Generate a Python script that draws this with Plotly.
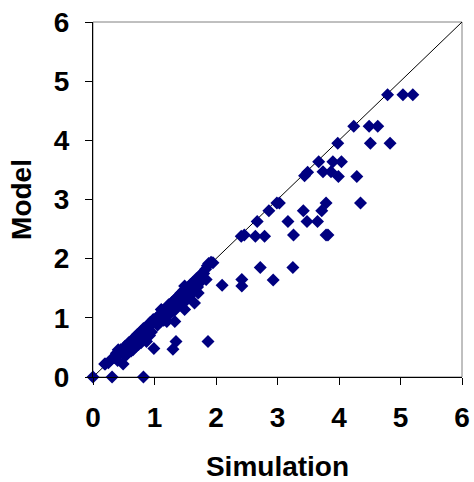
import plotly.graph_objects as go

# Simulation (x) and Model (y) values
simulation = [
    0.00, 0.31, 0.82,
    0.19, 0.49, 0.41, 0.99, 1.30, 1.35, 1.87, 0.87,
    0.20, 0.25, 0.30, 0.35, 0.38, 0.42, 0.45, 0.48, 0.52, 0.55, 0.58, 0.60,
    0.63, 0.66, 0.68, 0.70, 0.72, 0.75, 0.78, 0.80, 0.82, 0.85, 0.88, 0.90,
    0.93, 0.95, 0.98, 1.00, 1.03, 1.05, 1.08, 1.10, 1.13, 1.15, 1.18, 1.20,
    1.23, 1.25, 1.28, 1.30, 1.33, 1.35, 1.38, 1.40, 1.43, 1.45, 1.48, 1.50,
    1.53, 1.55, 1.58, 1.60, 1.63, 1.65, 1.68, 1.70, 1.73, 1.75, 1.78, 1.80,
    1.83, 1.86, 1.88, 1.92, 1.95,
    0.40, 0.52, 0.62, 0.70, 0.78, 0.86, 0.95, 1.05, 1.15, 1.25, 1.35, 1.45,
    1.55, 1.62, 1.70,
    0.55, 0.65, 0.74, 0.92, 1.10, 1.22, 1.32, 1.42, 1.52, 1.60, 1.76,
    1.20, 1.33, 1.11, 1.49, 1.65, 1.71, 1.84, 1.49,
    2.10, 2.42, 2.42, 2.93, 2.72, 3.25,
    2.41, 2.46, 2.64, 2.79, 3.26, 3.79, 3.82,
    2.67, 3.17, 3.48, 3.65,
    2.86, 3.42, 3.72,
    2.99, 3.03, 3.79, 4.35,
    3.44, 3.49, 3.74, 3.87, 3.99, 4.29,
    3.67, 3.90, 4.04,
    3.98, 4.51, 4.83,
    4.24, 4.49, 4.63,
    4.79, 5.04, 5.20,
]
model = [
    0.00, 0.00, 0.00,
    0.22, 0.22, 0.46, 0.48, 0.47, 0.60, 0.60, 0.60,
    0.22, 0.24, 0.30, 0.33, 0.40, 0.40, 0.46, 0.45, 0.52, 0.50, 0.58, 0.55,
    0.62, 0.60, 0.67, 0.64, 0.72, 0.70, 0.77, 0.75, 0.82, 0.80, 0.86, 0.84,
    0.92, 0.90, 0.97, 0.93, 1.00, 0.95, 1.05, 1.00, 1.12, 1.08, 1.15, 1.10,
    1.22, 1.17, 1.26, 1.20, 1.31, 1.25, 1.36, 1.30, 1.42, 1.35, 1.47, 1.40,
    1.50, 1.45, 1.56, 1.50, 1.60, 1.55, 1.66, 1.62, 1.70, 1.68, 1.76, 1.75,
    1.82, 1.88, 1.92, 1.94, 1.93,
    0.28, 0.36, 0.44, 0.52, 0.58, 0.66, 0.76, 0.88, 0.96, 1.08, 1.16, 1.24,
    1.36, 1.44, 1.52,
    0.38, 0.46, 0.55, 0.70, 0.94, 1.04, 1.12, 1.22, 1.30, 1.40, 1.62,
    0.94, 0.94, 1.14, 1.14, 1.25, 1.42, 1.65, 1.54,
    1.55, 1.65, 1.54, 1.64, 1.85, 1.85,
    2.38, 2.40, 2.38, 2.38, 2.40, 2.40, 2.40,
    2.63, 2.63, 2.63, 2.63,
    2.81, 2.81, 2.81,
    2.94, 2.94, 2.94, 2.94,
    3.40, 3.46, 3.47, 3.47, 3.39, 3.39,
    3.64, 3.64, 3.64,
    3.95, 3.95, 3.95,
    4.24, 4.24, 4.24,
    4.77, 4.77, 4.77,
]
diag = [0, 6]
tick_vals = [0, 1, 2, 3, 4, 5, 6]

fig = go.Figure()
fig.add_trace(go.Scatter(x=diag, y=diag, mode="lines",
                         line=dict(color="black", width=1), showlegend=False))
fig.add_trace(go.Scatter(x=simulation, y=model, mode="markers",
                         marker=dict(symbol="diamond", size=10, color="#000080",
                                     line=dict(width=0)),
                         showlegend=False, cliponaxis=False))

font_bold = dict(family="Liberation Sans, Arial, sans-serif", size=28,
                 color="black", weight="bold")
axis_common = dict(range=[0, 6], tickvals=tick_vals, showgrid=False, zeroline=False,
                   showline=True, linecolor="black", linewidth=1,
                   ticks="outside", ticklen=7, tickcolor="black", tickwidth=1,
                   tickfont=font_bold, automargin=False, ticklabeloverflow="allow")

fig.update_layout(
    width=474, height=482,
    margin=dict(l=93, r=12, t=22, b=105),
    paper_bgcolor="white", plot_bgcolor="white",
    xaxis=dict(**axis_common, ticklabelstandoff=8,
               title=dict(text="Simulation", font=font_bold, standoff=25)),
    yaxis=dict(**axis_common, ticklabelstandoff=10,
               title=dict(text="Model", font=font_bold, standoff=14)),
    shapes=[dict(type="rect", xref="x domain", yref="y domain", x0=0, x1=1, y0=0, y1=1,
                 line=dict(color="#808080", width=1), layer="below")],
)
# remove the default page margin so the figure sits at the window's top-left corner
fig.write_html("out.html", config={"displayModeBar": False},
               post_script="document.body.style.margin='0';")
